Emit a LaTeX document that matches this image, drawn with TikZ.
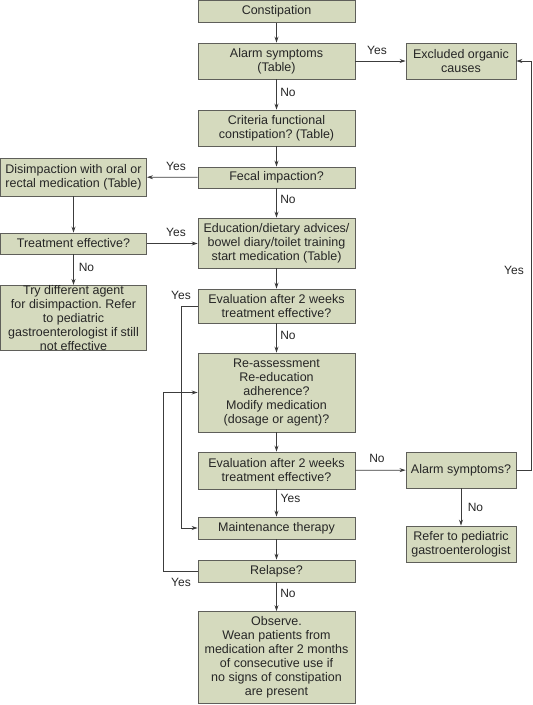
\documentclass[tikz,border=0pt]{standalone}
\usepackage{fontspec}
\setmainfont{Liberation Sans}
\usetikzlibrary{arrows.meta}
\frenchspacing
\definecolor{boxfill}{RGB}{213,218,190}
\definecolor{boxline}{RGB}{95,95,90}
\definecolor{arrline}{RGB}{60,60,60}
\tikzset{
  fbox/.style={draw=boxline, fill=boxfill, line width=0.9pt, inner sep=0pt, align=center,
    font=\fontsize{12.5}{14}\selectfont, text=black!85},
  cbox/.style={fbox, minimum width=157pt},
  rbox/.style={fbox, minimum width=110pt},
  lbox/.style={fbox, minimum width=146pt},
  conn/.style={draw=arrline, line width=0.7pt, -{Stealth[length=6pt,width=4pt]}},
  lbl/.style={font=\fontsize{12}{13}\selectfont, text=black!85, inner sep=0pt}
}
\begin{document}
\begin{tikzpicture}[x=1pt,y=-1pt]
\useasboundingbox (0,0) rectangle (533,705);
% center column
\node[cbox, minimum height=22pt] (c1) at (276.5,11.5) {Constipation};
\node[cbox, minimum height=36pt] (c2) at (276.5,61) {Alarm symptoms\\(Table)};
\node[cbox, minimum height=36pt] (c3) at (276.5,128) {Criteria functional\\constipation? (Table)};
\node[cbox, minimum height=21pt] (c4) at (276.5,177.5) {Fecal impaction?};
\node[cbox, minimum height=50pt] (c5) at (276.5,243) {Education/dietary advices/\\bowel diary/toilet training\\start medication (Table)};
\node[cbox, minimum height=34pt] (c6) at (276.5,306) {Evaluation after 2 weeks\\treatment effective?};
\node[cbox, minimum height=79pt] (c7) at (276.5,392.5) {Re-assessment\\Re-education\\adherence?\\Modify medication\\(dosage or agent)?};
\node[cbox, minimum height=37pt] (c8) at (276.5,470.5) {Evaluation after 2 weeks\\treatment effective?};
\node[cbox, minimum height=22pt] (c9) at (276.5,528) {Maintenance therapy};
\node[cbox, minimum height=22pt] (c10) at (276.5,571) {Relapse?};
\node[cbox, minimum height=92pt] (c11) at (276.5,657.5) {Observe.\\Wean patients from\\medication after 2 months\\of consecutive use if\\no signs of constipation\\are present};
% right column
\node[rbox, minimum height=36pt] (r1) at (461,61) {Excluded organic\\causes};
\node[rbox, minimum height=36pt] (r2) at (461,470) {Alarm symptoms?};
\node[rbox, minimum height=36pt] (r3) at (461,544) {Refer to pediatric\\gastroenterologist};
% left column
\node[lbox, minimum height=38pt] (l1) at (73.5,177) {Disimpaction with oral or\\rectal medication (Table)};
\node[lbox, minimum height=21pt] (l2) at (73.5,243.5) {Treatment effective?};
\node[lbox, minimum height=63pt] (l3) at (73.5,318) {Try different agent\\for disimpaction. Refer\\to pediatric\\gastroenterologist if still\\not effective};
% coordinates for bends
\coordinate (y1) at (181,306);
\coordinate (y2) at (181,528);
\coordinate (z1) at (163,571);
\coordinate (z2) at (163,392.5);
\coordinate (w1) at (531,470);
\coordinate (w2) at (531,61);
% connectors
\draw[conn] (c1) -- (c2);
\draw[conn] (c2) -- (c3);
\draw[conn] (c3) -- (c4);
\draw[conn] (c4) -- (c5);
\draw[conn] (c5) -- (c6);
\draw[conn] (c6) -- (c7);
\draw[conn] (c7) -- (c8);
\draw[conn] (c8) -- (c9);
\draw[conn] (c9) -- (c10);
\draw[conn] (c10) -- (c11);
\draw[conn] (c2) -- (r1);
\draw[conn] (c4) -- (l1);
\draw[conn] (l1) -- (l2);
\draw[conn] (l2) -- (c5.west |- l2);
\draw[conn] (l2) -- (l3);
\draw[conn] (c6.west) -- (y1) -- (y2) -- (c9.west);
\draw[conn] (c10.west) -- (z1) -- (z2) -- (c7.west);
\draw[conn] (c8) -- (r2);
\draw[conn] (r2) -- (r3);
\draw[conn] (r2.east) -- (w1) -- (w2) -- (r1.east);
% labels
\node[lbl] (n1) at (288,92) {No};
\node[lbl] (n2) at (288,199) {No};
\node[lbl] (n3) at (288,335.5) {No};
\node[lbl] (n4) at (290.5,498) {Yes};
\node[lbl] (n5) at (288,593.5) {No};
\node[lbl] (n6) at (377,50) {Yes};
\node[lbl] (n7) at (176,166) {Yes};
\node[lbl] (n8) at (176,232) {Yes};
\node[lbl] (n9) at (86.5,267) {No};
\node[lbl] (n10) at (181,295) {Yes};
\node[lbl] (n11) at (181,582) {Yes};
\node[lbl] (n12) at (377,458) {No};
\node[lbl] (n13) at (475.5,507) {No};
\node[lbl] (n14) at (514,270) {Yes};
\end{tikzpicture}
\end{document}
